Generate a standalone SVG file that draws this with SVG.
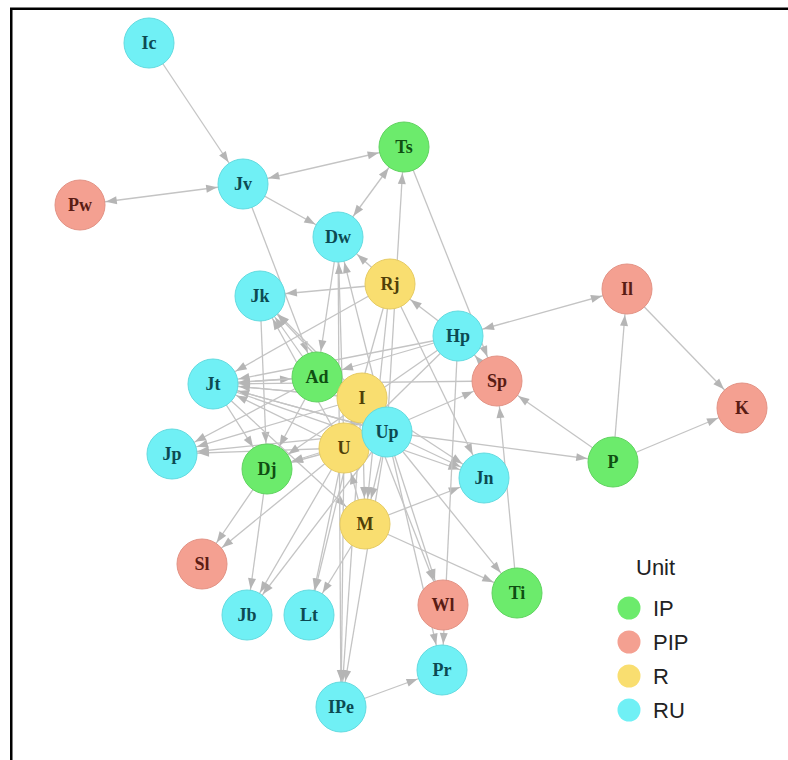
<svg xmlns="http://www.w3.org/2000/svg" width="788" height="760" viewBox="0 0 788 760">
<style>
.e line{stroke:#c4c4c4;stroke-width:1.3;fill:none;marker-end:url(#ah)}
.b line{stroke:#c4c4c4;stroke-width:1.3;fill:none;marker-end:url(#ah);marker-start:url(#ah)}
.n circle{stroke-width:1}
.n text{font-family:"Liberation Serif","Times New Roman",serif;font-size:18px;font-weight:bold;text-anchor:middle}
.IP circle{fill:#6ceb6c;stroke:#5fd35f}
.IP text{fill:#0f4f12}
.PIP circle{fill:#f4a091;stroke:#e39284}
.PIP text{fill:#5a1c14}
.R circle{fill:#f9de70;stroke:#e6cb62}
.R text{fill:#4f3f08}
.RU circle{fill:#70f0f5;stroke:#62dbe0}
.RU text{fill:#0c4a52}
.lg text{font-family:"Liberation Sans",Arial,sans-serif;font-size:22px;fill:#222}
</style>
<defs>
<marker id="ah" markerUnits="userSpaceOnUse" markerWidth="11" markerHeight="8" refX="37" refY="4" orient="auto-start-reverse" overflow="visible">
<path d="M0,0 L11,4 L0,8 z" fill="#b5b5b5"/>
</marker>
</defs>
<rect x="0" y="0" width="788" height="760" fill="#fff"/>
<rect x="11.25" y="8.75" width="820" height="820" fill="none" stroke="#000" stroke-width="2.5"/>
<g id="connectors">
<g class="e">
<line x1="149" y1="43" x2="243" y2="184"/>
<line x1="243" y1="184" x2="338" y2="237"/>
<line x1="243" y1="184" x2="317" y2="377"/>
<line x1="387" y1="432" x2="404" y2="147"/>
<line x1="404" y1="147" x2="497" y2="381"/>
<line x1="497" y1="381" x2="458" y2="336"/>
<line x1="390" y1="284" x2="338" y2="237"/>
<line x1="390" y1="284" x2="260" y2="296"/>
<line x1="390" y1="284" x2="213" y2="384"/>
<line x1="458" y1="336" x2="390" y2="284"/>
<line x1="627" y1="289" x2="742" y2="408"/>
<line x1="613" y1="462" x2="627" y2="289"/>
<line x1="613" y1="462" x2="742" y2="408"/>
<line x1="613" y1="462" x2="497" y2="381"/>
<line x1="387" y1="432" x2="613" y2="462"/>
<line x1="517" y1="593" x2="497" y2="381"/>
<line x1="387" y1="432" x2="517" y2="593"/>
<line x1="365" y1="524" x2="517" y2="593"/>
<line x1="365" y1="524" x2="484" y2="478"/>
<line x1="390" y1="284" x2="484" y2="478"/>
<line x1="387" y1="432" x2="484" y2="478"/>
<line x1="362" y1="398" x2="484" y2="478"/>
<line x1="213" y1="384" x2="484" y2="478"/>
<line x1="341" y1="707" x2="442" y2="670"/>
<line x1="458" y1="336" x2="442" y2="670"/>
<line x1="387" y1="432" x2="442" y2="670"/>
<line x1="387" y1="432" x2="443" y2="605"/>
<line x1="362" y1="398" x2="443" y2="605"/>
<line x1="267" y1="469" x2="202" y2="564"/>
<line x1="344" y1="448" x2="202" y2="564"/>
<line x1="260" y1="296" x2="267" y2="469"/>
<line x1="213" y1="384" x2="317" y2="377"/>
<line x1="213" y1="384" x2="267" y2="469"/>
<line x1="213" y1="384" x2="362" y2="398"/>
<line x1="213" y1="384" x2="387" y2="432"/>
<line x1="213" y1="384" x2="365" y2="524"/>
<line x1="338" y1="237" x2="317" y2="377"/>
<line x1="317" y1="377" x2="260" y2="296"/>
<line x1="362" y1="398" x2="260" y2="296"/>
<line x1="344" y1="448" x2="260" y2="296"/>
<line x1="387" y1="432" x2="260" y2="296"/>
<line x1="317" y1="377" x2="213" y2="384"/>
<line x1="362" y1="398" x2="213" y2="384"/>
<line x1="344" y1="448" x2="213" y2="384"/>
<line x1="387" y1="432" x2="213" y2="384"/>
<line x1="458" y1="336" x2="213" y2="384"/>
<line x1="497" y1="381" x2="213" y2="384"/>
<line x1="317" y1="377" x2="172" y2="454"/>
<line x1="362" y1="398" x2="172" y2="454"/>
<line x1="344" y1="448" x2="172" y2="454"/>
<line x1="387" y1="432" x2="172" y2="454"/>
<line x1="458" y1="336" x2="267" y2="469"/>
<line x1="317" y1="377" x2="267" y2="469"/>
<line x1="344" y1="448" x2="267" y2="469"/>
<line x1="387" y1="432" x2="267" y2="469"/>
<line x1="267" y1="469" x2="247" y2="615"/>
<line x1="344" y1="448" x2="247" y2="615"/>
<line x1="387" y1="432" x2="247" y2="615"/>
<line x1="344" y1="448" x2="309" y2="615"/>
<line x1="362" y1="398" x2="309" y2="615"/>
<line x1="365" y1="524" x2="309" y2="615"/>
<line x1="344" y1="448" x2="341" y2="707"/>
<line x1="362" y1="398" x2="341" y2="707"/>
<line x1="387" y1="432" x2="341" y2="707"/>
<line x1="338" y1="237" x2="341" y2="707"/>
<line x1="344" y1="448" x2="338" y2="237"/>
<line x1="387" y1="432" x2="338" y2="237"/>
<line x1="362" y1="398" x2="365" y2="524"/>
<line x1="387" y1="432" x2="365" y2="524"/>
<line x1="390" y1="284" x2="365" y2="524"/>
<line x1="390" y1="284" x2="344" y2="448"/>
<line x1="365" y1="524" x2="344" y2="448"/>
<line x1="458" y1="336" x2="344" y2="448"/>
<line x1="344" y1="448" x2="497" y2="381"/>
<line x1="458" y1="336" x2="317" y2="377"/>
</g>
<g class="b">
<line x1="80" y1="205" x2="243" y2="184"/>
<line x1="243" y1="184" x2="404" y2="147"/>
<line x1="404" y1="147" x2="338" y2="237"/>
<line x1="458" y1="336" x2="627" y2="289"/>
</g>
</g>
<g id="node-Ic" class="n RU"><circle cx="149" cy="43" r="25"/><text x="149" y="49">Ic</text></g>
<g id="node-Jv" class="n RU"><circle cx="243" cy="184" r="25"/><text x="243" y="190">Jv</text></g>
<g id="node-Pw" class="n PIP"><circle cx="80" cy="205" r="25"/><text x="80" y="211">Pw</text></g>
<g id="node-Ts" class="n IP"><circle cx="404" cy="147" r="25"/><text x="404" y="153">Ts</text></g>
<g id="node-Dw" class="n RU"><circle cx="338" cy="237" r="25"/><text x="338" y="243">Dw</text></g>
<g id="node-Rj" class="n R"><circle cx="390" cy="284" r="25"/><text x="390" y="290">Rj</text></g>
<g id="node-Jk" class="n RU"><circle cx="260" cy="296" r="25"/><text x="260" y="302">Jk</text></g>
<g id="node-Il" class="n PIP"><circle cx="627" cy="289" r="25"/><text x="627" y="295">Il</text></g>
<g id="node-Hp" class="n RU"><circle cx="458" cy="336" r="25"/><text x="458" y="342">Hp</text></g>
<g id="node-Jt" class="n RU"><circle cx="213" cy="384" r="25"/><text x="213" y="390">Jt</text></g>
<g id="node-Sp" class="n PIP"><circle cx="497" cy="381" r="25"/><text x="497" y="387">Sp</text></g>
<g id="node-K" class="n PIP"><circle cx="742" cy="408" r="25"/><text x="742" y="414">K</text></g>
<g id="node-Ad" class="n IP"><circle cx="317" cy="377" r="25"/><text x="317" y="383">Ad</text></g>
<g id="node-I" class="n R"><circle cx="362" cy="398" r="25"/><text x="362" y="404">I</text></g>
<g id="node-U" class="n R"><circle cx="344" cy="448" r="25"/><text x="344" y="454">U</text></g>
<g id="node-Up" class="n RU"><circle cx="387" cy="432" r="25"/><text x="387" y="438">Up</text></g>
<g id="node-Jp" class="n RU"><circle cx="172" cy="454" r="25"/><text x="172" y="460">Jp</text></g>
<g id="node-Dj" class="n IP"><circle cx="267" cy="469" r="25"/><text x="267" y="475">Dj</text></g>
<g id="node-Jn" class="n RU"><circle cx="484" cy="478" r="25"/><text x="484" y="484">Jn</text></g>
<g id="node-P" class="n IP"><circle cx="613" cy="462" r="25"/><text x="613" y="468">P</text></g>
<g id="node-M" class="n R"><circle cx="365" cy="524" r="25"/><text x="365" y="530">M</text></g>
<g id="node-Sl" class="n PIP"><circle cx="202" cy="564" r="25"/><text x="202" y="570">Sl</text></g>
<g id="node-Ti" class="n IP"><circle cx="517" cy="593" r="25"/><text x="517" y="599">Ti</text></g>
<g id="node-Wl" class="n PIP"><circle cx="443" cy="605" r="25"/><text x="443" y="611">Wl</text></g>
<g id="node-Jb" class="n RU"><circle cx="247" cy="615" r="25"/><text x="247" y="621">Jb</text></g>
<g id="node-Lt" class="n RU"><circle cx="309" cy="615" r="25"/><text x="309" y="621">Lt</text></g>
<g id="node-Pr" class="n RU"><circle cx="442" cy="670" r="25"/><text x="442" y="676">Pr</text></g>
<g id="node-IPe" class="n RU"><circle cx="341" cy="707" r="25"/><text x="341" y="713">IPe</text></g>
<g id="legend" class="lg">
<text x="636" y="575">Unit</text>
<circle cx="629" cy="608" r="11.5" fill="#6ceb6c"/>
<text x="653" y="616">IP</text>
<circle cx="629" cy="642" r="11.5" fill="#f4a091"/>
<text x="653" y="650">PIP</text>
<circle cx="629" cy="676" r="11.5" fill="#f9de70"/>
<text x="653" y="684">R</text>
<circle cx="629" cy="710" r="11.5" fill="#70f0f5"/>
<text x="653" y="718">RU</text>
</g>
</svg>
